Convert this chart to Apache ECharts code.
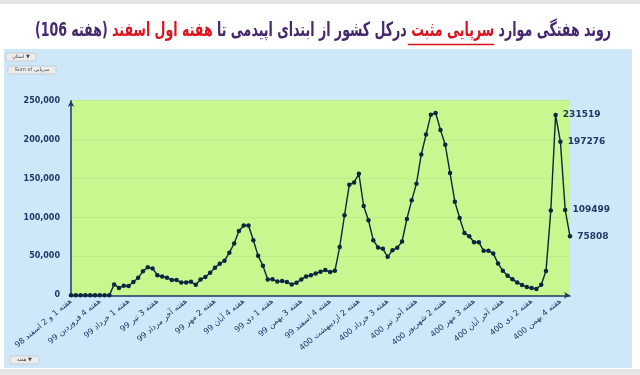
<!DOCTYPE html>
<html>
<head>
<meta charset="utf-8">
<script src="https://cdn.jsdelivr.net/npm/echarts@6/dist/echarts.min.js"></script>
<style>
html,body{margin:0;padding:0;background:#fff;}
#c{width:640px;height:375px;}
</style>
</head>
<body>
<div id="c"></div>
<script>
// Weekly positive outpatient cases (week 1 of Esfand 98 .. week 1 of Esfand 1400)
const weeklyCases = [
  0, 0, 0, 0, 0, 0, 0, 0, 0,
  14000, 9500, 12200, 12000, 17000, 22500, 31000, 36000, 34500, 25800,
  24000, 22500, 19800, 19600, 16600, 16600, 17400, 13500, 20400, 23400,
  29000, 35500, 40500, 44500, 54800, 66500, 82500, 89600, 89600, 70800,
  50700, 38000, 20400, 20600, 17600, 18300, 17000, 14000, 16100, 20400,
  24300, 25600, 28100, 30200, 32400, 29800, 31500, 62200, 102800, 142000,
  145000, 156000, 114700, 96400, 70800, 61400, 59700, 49400, 58000, 61000,
  69100, 98000, 122000, 143400, 180900, 206500, 232100, 234200, 212500, 193300,
  157000, 120300, 99300, 80100, 75900, 68200, 68200, 57100, 57100, 53800,
  41000, 31500, 25100, 20500, 16600, 13200, 10600, 9300, 8100, 13600,
  31100, 108800, 231519, 197276, 109499, 75808
];
// Tick labels shown every 6th week
const tickLabels = [
  'هفته 1 و 2 اسفند 98', 'هفته 4 فروردین 99', 'هفته 1 خرداد 99', 'هفته 3 تیر 99',
  'هفته آخر مرداد 99', 'هفته 2 مهر 99', 'هفته 4 آبان 99', 'هفته 1 دی 99',
  'هفته 3 بهمن 99', 'هفته 4 اسفند 99', 'هفته 2 اردیبهشت 400', 'هفته 3 خرداد 400',
  'هفته آخر تیر 400', 'هفته 2 شهریور 400', 'هفته 3 مهر 400', 'هفته آخر آبان 400',
  'هفته 2 دی 400', 'هفته 4 بهمن 400'
];
const tickEvery = 6;
const labelledLast = 4; // last points with value labels
const yTicks = [0, 50000, 100000, 150000, 200000, 250000];
// Title segments, in visual order from left to right
const titleParts = [
  ['p', '(هفته 106)'],
  ['r', 'هفته اول اسفند'],
  ['p', 'درکل کشور از ابتدای اپیدمی تا'],
  ['u', 'سرپایی مثبت'],
  ['p', 'روند هفتگی موارد']
];

const weeks = weeklyCases.map((_, i) => String(i + 1));
const navy = '#1f3864';
const purple = '#45286f';
const red = '#d9141e';
const titleFontFamily = '"DejaVu Sans Condensed", "DejaVu Sans"';
const titleSize = 14;
const titleCx = 323, titleCy = 31;
const seriesData = weeklyCases.map((v, i) => {
  if (i >= weeklyCases.length - labelledLast) {
    return {value: v, label: {show: true}};
  }
  return v;
});

// measure title to place the underline under the red "سرپایی مثبت"
const mctx = document.createElement('canvas').getContext('2d');
mctx.font = 'bold ' + titleSize + 'px ' + titleFontFamily;
const spaceW = mctx.measureText(' ').width;
const widths = titleParts.map(p => mctx.measureText(p[1]).width);
const totalW = widths.reduce((a, b) => a + b, 0) + spaceW * (titleParts.length - 1);
let cursor = titleCx - totalW / 2;
let ulStart = 0, ulEnd = 0;
titleParts.forEach((p, i) => {
  if (p[0] === 'u') { ulStart = cursor - spaceW * 0.8; ulEnd = cursor + widths[i]; }
  cursor += widths[i] + spaceW;
});
const titleText = titleParts.map(p => '{' + p[0] + '|' + p[1] + '}').join(' ');

const chart = echarts.init(document.getElementById('c'), null, {renderer: 'canvas'});
chart.setOption({
  animation: false,
  backgroundColor: '#ffffff',
  graphic: [
    {type: 'rect', z: -10, shape: {x: 0, y: 0, width: 640, height: 4}, style: {fill: '#e4e4e4'}},
    {type: 'rect', z: -10, shape: {x: 4, y: 49, width: 628, height: 319}, style: {fill: '#cee8fa'}},
    {type: 'rect', z: -10, shape: {x: 0, y: 369, width: 640, height: 6}, style: {fill: '#e6e6e6'}},
    {type: 'text', z: 10, x: titleCx, y: titleCy, scaleX: 1, scaleY: 1.4,
      style: {x: 0, y: 0, text: titleText, align: 'center', verticalAlign: 'middle',
      fontFamily: titleFontFamily, fontSize: titleSize, fontWeight: 'bold', fill: purple,
      rich: {
        p: {fill: purple, fontSize: titleSize, fontWeight: 'bold', fontFamily: titleFontFamily},
        r: {fill: red, fontSize: titleSize, fontWeight: 'bold', fontFamily: titleFontFamily},
        u: {fill: red, fontSize: titleSize, fontWeight: 'bold', fontFamily: titleFontFamily}
      }}},
    {type: 'line', shape: {x1: ulStart, y1: 44.5, x2: ulEnd, y2: 44.5}, style: {stroke: red, lineWidth: 1.6}},
    {type: 'rect', shape: {x: 6, y: 53, width: 30, height: 8, r: 1}, style: {fill: '#ececec', stroke: '#b0b0b0', lineWidth: 0.5}},
    {type: 'text', style: {x: 21, y: 57, text: 'استان ▼', fontSize: 5, fill: '#444', align: 'center', verticalAlign: 'middle', fontFamily: 'DejaVu Sans'}},
    {type: 'rect', shape: {x: 8, y: 66, width: 48, height: 8, r: 1}, style: {fill: '#ececec', stroke: '#b0b0b0', lineWidth: 0.5}},
    {type: 'text', style: {x: 32, y: 70, text: 'Sum of سرپایی', fontSize: 5, fill: '#444', align: 'center', verticalAlign: 'middle', fontFamily: 'DejaVu Sans'}},
    {type: 'rect', shape: {x: 10, y: 356, width: 29, height: 8, r: 1}, style: {fill: '#ececec', stroke: '#b0b0b0', lineWidth: 0.5}},
    {type: 'text', style: {x: 24.5, y: 360, text: 'هفته ▼', fontSize: 5, fill: '#444', align: 'center', verticalAlign: 'middle', fontFamily: 'DejaVu Sans'}}
  ],
  grid: {left: 71, right: 70, top: 100.7, bottom: 79.7, show: true, backgroundColor: '#c9f78f', borderWidth: 0},
  xAxis: {
    type: 'category',
    data: weeks,
    boundaryGap: false,
    axisLine: {lineStyle: {color: navy, width: 1.5}, symbol: ['none', 'arrow'], symbolSize: [5, 6]},
    axisTick: {show: false},
    axisLabel: {
      interval: tickEvery - 1,
      rotate: 40,
      margin: 5,
      fontSize: 8,
      color: navy,
      fontFamily: 'DejaVu Sans',
      formatter: (v, i) => tickLabels[Math.round(i / tickEvery)] || ''
    },
    splitLine: {show: false}
  },
  yAxis: {
    type: 'value',
    min: yTicks[0],
    max: yTicks[yTicks.length - 1],
    interval: yTicks[1] - yTicks[0],
    axisLine: {show: true, lineStyle: {color: navy, width: 1.5}, symbol: ['none', 'arrow'], symbolSize: [5, 6]},
    axisTick: {show: false},
    axisLabel: {margin: 11, fontSize: 8, fontWeight: 'bold', color: navy, fontFamily: 'DejaVu Sans'},
    splitLine: {lineStyle: {color: '#c2ec8c', width: 1}}
  },
  series: [{
    type: 'line',
    data: seriesData,
    symbol: 'circle',
    symbolSize: 4.5,
    showAllSymbol: true,
    lineStyle: {color: '#0d2540', width: 1.4},
    itemStyle: {color: '#0d2540'},
    label: {show: false, position: 'right', distance: 5, fontSize: 9, fontWeight: 'bold', color: navy, fontFamily: 'DejaVu Sans', formatter: p => String(p.value)}
  }]
});
</script>
</body>
</html>
